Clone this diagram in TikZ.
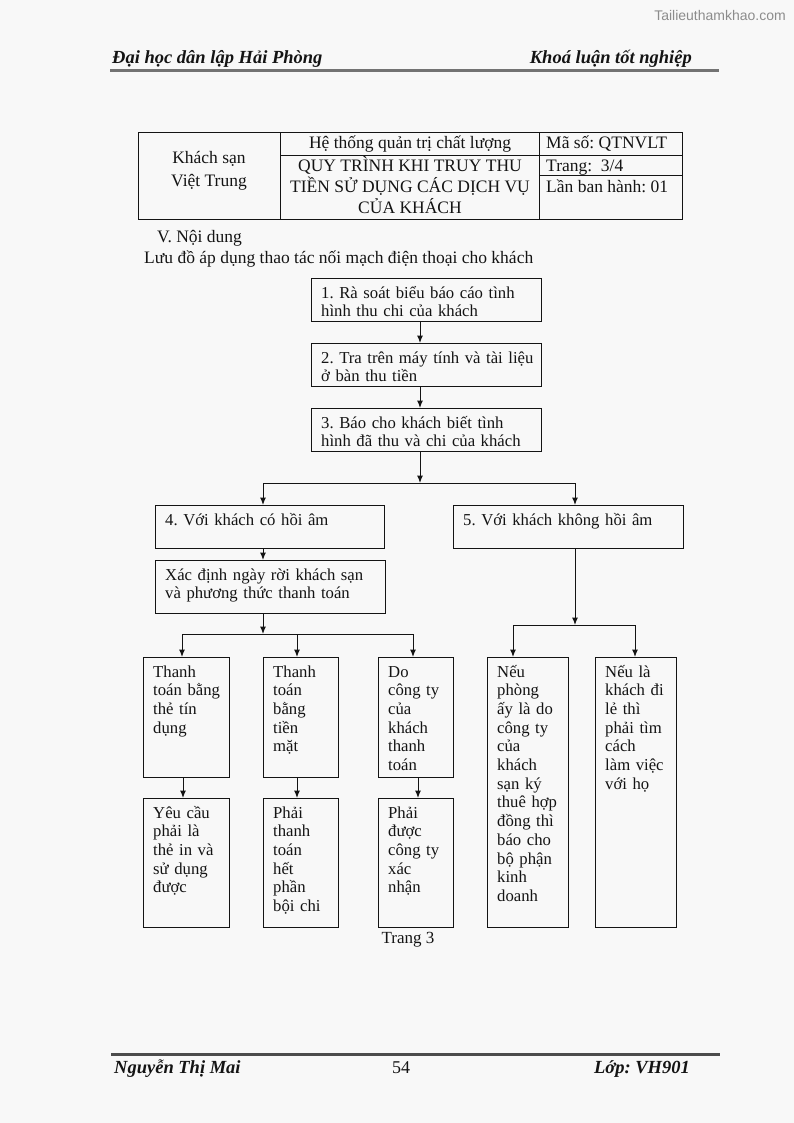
\documentclass[tikz,border=0pt]{standalone}
\usepackage{fontspec}
\setmainfont{Liberation Serif}
\newfontfamily\wmfont{Liberation Sans}
\usetikzlibrary{arrows.meta}
\definecolor{pagebg}{RGB}{248,248,248}
\definecolor{ink}{RGB}{20,20,20}
\frenchspacing
\begin{document}
\begin{tikzpicture}[x=1pt,y=-1pt,
  fbox/.style={draw=ink, line width=1.1pt, inner sep=0pt, anchor=north west},
  txt/.style={anchor=base west, inner sep=0pt, text width=400pt, align=left, text=ink,
    font=\frenchspacing\fontsize{16.7}{18.7}\selectfont},
  ttxt/.style={anchor=base, inner sep=0pt, text=ink, font=\frenchspacing\fontsize{17.5}{21}\selectfont},
  ltxt/.style={anchor=base west, inner sep=0pt, text=ink, font=\frenchspacing\fontsize{17.5}{21}\selectfont},
  arr/.style={draw=ink, line width=1pt, -{Latex[length=7.5pt,width=6pt]}},
  ln/.style={draw=ink, line width=1pt},
  hdr/.style={inner sep=0pt, text=ink, font=\fontsize{18.5}{20}\selectfont\bfseries\itshape}]
\fill[pagebg] (0,0) rectangle (794,1123);
\useasboundingbox (0,0) rectangle (794,1123);

% watermark
\node[anchor=base east, inner sep=0pt, text=black!45, font=\wmfont\fontsize{14}{16}\selectfont] (wm) at (786,21) {Tailieuthamkhao.com};

% header
\node[hdr, anchor=base west] (h1) at (112,64) {Đại học dân lập Hải Phòng};
\node[hdr, anchor=base east] (h2) at (692,64) {Khoá luận tốt nghiệp};
\draw[black!55, line width=3pt] (110,71) -- (719,71);

% footer
\draw[black!70, line width=3pt] (111,1054) -- (720,1054);
\node[hdr, anchor=base west] (f1) at (114,1073) {Nguyễn Thị Mai};
\node[anchor=base, inner sep=0pt, text=ink, font=\fontsize{18}{20}\selectfont] (f2) at (401,1073) {54};
\node[hdr, anchor=base east] (f3) at (690,1073) {Lớp: VH901};

% table
\draw[ink, line width=1pt] (138,133) rectangle (682,220);
\draw[ink, line width=1pt] (280,133) -- (280,220);
\draw[ink, line width=1pt] (539,133) -- (539,220);
\draw[ink, line width=1pt] (280,156) -- (682,156);
\draw[ink, line width=1pt] (539,176) -- (682,176);
\node[ttxt] (t1) at (209,164) {Khách sạn};
\node[ttxt] (t2) at (209,187) {Việt Trung};
\node[ttxt] (t3) at (410,149) {Hệ thống quản trị chất lượng};
\node[ttxt] (t4) at (410,172) {QUY TRÌNH KHI TRUY THU};
\node[ttxt] (t5) at (410,193) {TIỀN SỬ DỤNG CÁC DỊCH VỤ};
\node[ttxt] (t6) at (410,214) {CỦA KHÁCH};
\node[ltxt] (t7) at (546,149) {Mã số: QTNVLT};
\node[ltxt] (t8) at (546,172) {Trang:\ \ 3/4};
\node[ltxt] (t9) at (546,193) {Lần ban hành: 01};

\node[ltxt] (s1) at (157,243) {V. Nội dung};
\node[ltxt] (s2) at (144,263) {Lưu đồ áp dụng thao tác nối mạch điện thoại cho khách};

% boxes
\node[fbox, minimum width=230pt, minimum height=43pt] (b1) at (311,278) {};
\node[fbox, minimum width=230pt, minimum height=43pt] (b2) at (311,343) {};
\node[fbox, minimum width=230pt, minimum height=43pt] (b3) at (311,408) {};
\node[fbox, minimum width=229pt, minimum height=43pt] (b4) at (155,505) {};
\node[fbox, minimum width=230pt, minimum height=43pt] (b5) at (453,505) {};
\node[fbox, minimum width=230pt, minimum height=53pt] (b6) at (155,560) {};
\node[fbox, minimum width=86pt, minimum height=120pt] (ba) at (143,657) {};
\node[fbox, minimum width=75pt, minimum height=120pt] (bb) at (263,657) {};
\node[fbox, minimum width=75pt, minimum height=120pt] (bc) at (378,657) {};
\node[fbox, minimum width=86pt, minimum height=129pt] (ba2) at (143,798) {};
\node[fbox, minimum width=75pt, minimum height=129pt] (bb2) at (263,798) {};
\node[fbox, minimum width=75pt, minimum height=129pt] (bc2) at (378,798) {};
\node[fbox, minimum width=81pt, minimum height=270pt] (r1) at (487,657) {};
\node[fbox, minimum width=81pt, minimum height=270pt] (r2) at (595,657) {};

% box texts
\node[txt] at ([shift={(10,20)}]b1.north west) {1. Rà soát biểu báo cáo tình\\hình thu chi của khách};
\node[txt] at ([shift={(10,20)}]b2.north west) {2. Tra trên máy tính và tài liệu\\ở bàn thu tiền};
\node[txt] at ([shift={(10,20)}]b3.north west) {3. Báo cho khách biết tình\\hình đã thu và chi của khách};
\node[txt] at ([shift={(10,20)}]b4.north west) {4. Với khách có hồi âm};
\node[txt] at ([shift={(10,20)}]b5.north west) {5. Với khách không hồi âm};
\node[txt] at ([shift={(10,20)}]b6.north west) {Xác định ngày rời khách sạn\\và phương thức thanh toán};
\node[txt] at ([shift={(10,20)}]ba.north west) {Thanh\\toán bằng\\thẻ tín\\dụng};
\node[txt] at ([shift={(10,20)}]bb.north west) {Thanh\\toán\\bằng\\tiền\\mặt};
\node[txt] at ([shift={(10,20)}]bc.north west) {Do\\công ty\\của\\khách\\thanh\\toán};
\node[txt] at ([shift={(10,20)}]ba2.north west) {Yêu cầu\\phải là\\thẻ in và\\sử dụng\\được};
\node[txt] at ([shift={(10,20)}]bb2.north west) {Phải\\thanh\\toán\\hết\\phần\\bội chi};
\node[txt] at ([shift={(10,20)}]bc2.north west) {Phải\\được\\công ty\\xác\\nhận};
\node[txt] at ([shift={(10,20)}]r1.north west) {Nếu\\phòng\\ấy là do\\công ty\\của\\khách\\sạn ký\\thuê hợp\\đồng thì\\báo cho\\bộ phận\\kinh\\doanh};
\node[txt] at ([shift={(10,20)}]r2.north west) {Nếu là\\khách đi\\lẻ thì\\phải tìm\\cách\\làm việc\\với họ};

\node[anchor=base, inner sep=0pt, text=ink, font=\fontsize{17}{19}\selectfont] (pg) at (408,943) {Trang 3};

% connectors
\coordinate (j1) at (420,483);
\coordinate (j1l) at (263,483);
\coordinate (j1r) at (575,483);
\coordinate (j2) at (263,634);
\coordinate (j2l) at (182,634);
\coordinate (j2r) at (413,634);
\coordinate (j3) at (575,625);
\coordinate (j3l) at (513,625);
\coordinate (j3r) at (635,625);

\draw[arr] (b1.south -| j1) -- (b2.north -| j1);
\draw[arr] (b2.south -| j1) -- (b3.north -| j1);
\draw[arr] (b3.south -| j1) -- (j1);
\draw[ln] (j1l) -- (j1r);
\draw[arr] (j1l) -- (b4.north -| j1l);
\draw[arr] (j1r) -- (b5.north -| j1r);
\draw[arr] (b4.south -| j1l) -- (b6.north -| j1l);
\draw[arr] (b6.south -| j2) -- (j2);
\draw[ln] (j2l) -- (j2r);
\draw[arr] (j2l) -- (ba.north -| j2l);
\draw[arr] (j2 -| 297,0) -- (bb.north -| 297,0);
\draw[arr] (j2r) -- (bc.north -| j2r);
\draw[arr] (ba.south -| 183,0) -- (ba2.north -| 183,0);
\draw[arr] (bb.south -| 297,0) -- (bb2.north -| 297,0);
\draw[arr] (bc.south -| 418,0) -- (bc2.north -| 418,0);
\draw[arr] (b5.south -| j3) -- (j3);
\draw[ln] (j3l) -- (j3r);
\draw[arr] (j3l) -- (r1.north -| j3l);
\draw[arr] (j3r) -- (r2.north -| j3r);
\end{tikzpicture}
\end{document}
